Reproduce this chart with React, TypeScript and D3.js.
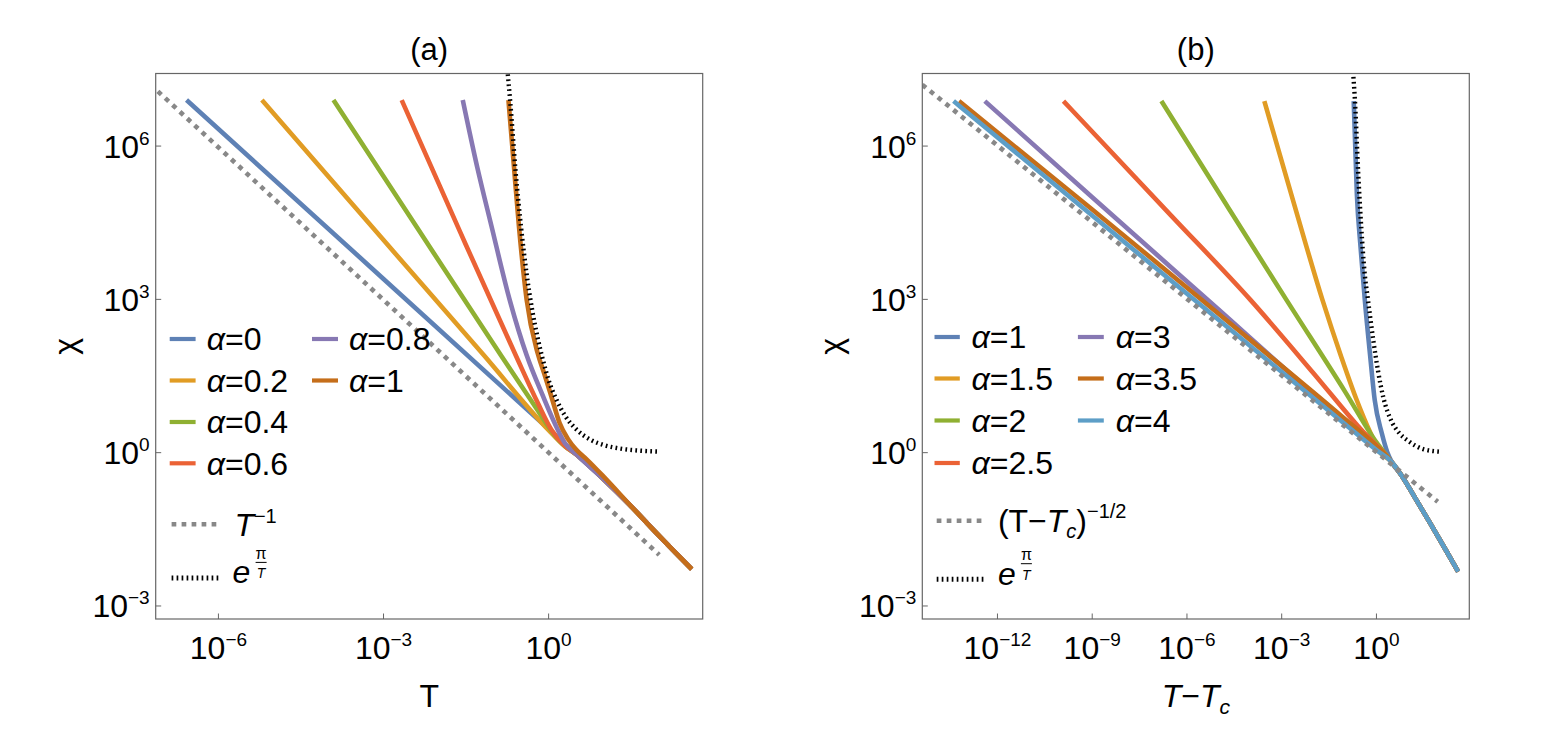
import React from 'react';
import * as d3 from 'd3';

type Pt = [number, number]; // [log10 of x value, log10 of chi]

const FONT = '"Liberation Sans", Arial, Helvetica, sans-serif';
const COLORS = ['#5E81B5', '#E19C24', '#8FB032', '#EB6235', '#8778B3', '#C56E1A', '#5D9EC7'];

// axis ranges (log10)
const yRange: Pt = [-3.255, 7.42];
const xRangeA: Pt = [-7.14, 2.8];
const xRangeB: Pt = [-14.38, 2.94];
const yTicks = [-3, 0, 3, 6];
const xTicksA = [-6, -3, 0];
const xTicksB = [-12, -9, -6, -3, 0];

// ---- panel (a): chi vs T ----
const alphasA = ['0', '0.2', '0.4', '0.6', '0.8', '1'];
const tailA: Pt[] = [[0.5, -0.03], [1.0, -0.52], [1.5, -1.05], [2.0, -1.62], [2.6, -2.28]];
const headsA: Pt[][] = [
  [[-6.58, 6.9], [-3, 3.4], [0, 0.46]],
  [[-5.21, 6.9], [-3, 4.16], [-1.18, 1.91], [0, 0.44], [0.25, 0.17]],
  [[-3.91, 6.9], [-2.4, 4.42], [-0.87, 1.91], [-0.2, 0.83], [0.1, 0.35], [0.3, 0.12]],
  [[-2.67, 6.9], [-1.6, 4.3], [-0.6, 1.91], [-0.2, 0.98], [0.05, 0.45], [0.3, 0.13]],
  [[-1.56, 6.9], [-1.3, 5.6], [-1.04, 4.44], [-0.71, 3.0], [-0.4, 1.91], [-0.1, 1.1], [0.1, 0.6], [0.3, 0.18]],
  [[-0.73, 6.9], [-0.63, 5.6], [-0.54, 4.44], [-0.4, 3.0], [-0.2, 1.95], [-0.08, 1.55], [0.05, 1.1],
    [0.2, 0.58], [0.35, 0.27], [0.5, 0.06], [0.7, -0.14], [1.0, -0.47]],
];
const powerA: Pt[] = [[-7.1, 7.07], [2.01, -2.0]];
const expA: Pt[] = [
  [-0.75, 7.5], [-0.7, 6.9], [-0.6, 5.5], [-0.5, 4.4], [-0.4, 3.5], [-0.3, 2.8], [-0.2, 2.25],
  [-0.1, 1.8], [0.0, 1.42], [0.15, 1.02], [0.3, 0.72], [0.5, 0.46], [0.75, 0.26], [1.0, 0.15],
  [1.3, 0.08], [1.65, 0.04], [2.01, 0.02],
];

// ---- panel (b): chi vs T - Tc ----
const alphasB = ['1', '1.5', '2', '2.5', '3', '3.5', '4'];
const tailB: Pt[] = [[0.8, -0.45], [1.2, -0.86], [1.7, -1.38], [2.2, -1.91], [2.59, -2.33]];
const headsB: Pt[][] = [
  [[-0.72, 6.88], [-0.62, 5.06], [-0.5, 4.0], [-0.37, 3.0], [-0.2, 1.9], [-0.055, 1.03], [0.17, 0.38], [0.35, 0.0], [0.5, -0.2]],
  [[-3.55, 6.88], [-2.6, 4.85], [-1.71, 2.99], [-1.1, 1.85], [-0.625, 1.03], [-0.2, 0.4], [0.12, 0.0], [0.45, -0.16]],
  [[-6.81, 6.88], [-4.8, 4.9], [-2.85, 2.99], [-1, 1.2], [0, 0.2], [0.45, -0.16]],
  [[-9.91, 6.88], [-6.5, 4.64], [-3.99, 2.99], [-2, 1.56], [-0.5, 0.46], [0.45, -0.16]],
  [[-12.4, 6.88], [-9, 5.0], [-5, 2.8], [-2, 1.15], [0, 0.1], [0.45, -0.16]],
  [[-13.22, 6.88], [-9, 4.76], [-5, 2.72], [-1, 0.66], [0, 0.13], [0.45, -0.16]],
  [[-13.39, 6.88], [-9, 4.64], [-5, 2.6], [-1, 0.56], [0, 0.05], [0.45, -0.16]],
];
const powerB: Pt[] = [[-14.38, 7.2], [1.94, -0.96]];
const expB: Pt[] = [
  [-0.74, 7.45], [-0.68, 6.88], [-0.58, 5.5], [-0.48, 4.4], [-0.38, 3.55], [-0.27, 3.0], [-0.1, 2.2],
  [0.05, 1.6], [0.23, 1.05], [0.45, 0.65], [0.7, 0.4], [1.03, 0.22], [1.48, 0.07], [1.99, 0.02],
];

const TOP = 73.5;
const BOTTOM = 619;

const supText = (e: number) => (e < 0 ? `\u2212${-e}` : `${e}`);

const AlphaLabel = ({ x, y, v }: { x: number; y: number; v: string }) => (
  <text x={x} y={y + 11.4} fontSize={32}>
    <tspan fontStyle="italic">α</tspan>={v}
  </text>
);

const ExpLabel = ({ x, y }: { x: number; y: number }) => (
  <g>
    <text x={x} y={y + 5.5} fontSize={32} fontStyle="italic">e</text>
    <text x={x + 28.5} y={y - 19} fontSize={16} textAnchor="middle">π</text>
    <line x1={x + 23} x2={x + 34} y1={y - 15.5} y2={y - 15.5} stroke="#000" strokeWidth={1} />
    <text x={x + 28.5} y={y + 0.5} fontSize={14} textAnchor="middle" fontStyle="italic">T</text>
  </g>
);

interface LegendCfg {
  cols: { x1: number; x2: number; tx: number }[];
  rows: number[];
  power: { y: number; x1: number; x2: number; tx: number };
  exp: { y: number; tx: number };
}

interface PanelProps {
  id: string;
  left: number;
  right: number;
  xRange: Pt;
  xTicks: number[];
  heads: Pt[][];
  tail: Pt[];
  alphas: string[];
  power: Pt[];
  expo: Pt[];
  title: string;
  chiX: number;
  xLabel: React.ReactNode;
  powerLabel: (x: number, y: number) => React.ReactNode;
  legend: LegendCfg;
}

function Panel(p: PanelProps) {
  const x = d3.scaleLog().domain([10 ** p.xRange[0], 10 ** p.xRange[1]]).range([p.left, p.right]);
  const y = d3.scaleLog().domain([10 ** yRange[0], 10 ** yRange[1]]).range([BOTTOM, TOP]);
  const line = d3
    .line<Pt>()
    .x((d) => x(10 ** d[0]))
    .y((d) => y(10 ** d[1]))
    .curve(d3.curveMonotoneX);
  const cx = (p.left + p.right) / 2;
  const L = p.legend;

  return (
    <g>
      <defs>
        <clipPath id={`clip-${p.id}`}>
          <rect x={p.left} y={TOP} width={p.right - p.left} height={BOTTOM - TOP} />
        </clipPath>
      </defs>
      <text x={cx} y={60} fontSize={31} textAnchor="middle">{p.title}</text>

      {/* curves */}
      <g clipPath={`url(#clip-${p.id})`} fill="none">
        {p.heads.map((h, i) => (
          <path key={i} d={line([...h, ...p.tail.filter((t) => t[0] > h[h.length - 1][0])]) || ''}
            stroke={COLORS[i]} strokeWidth={4.6} strokeLinejoin="round" />
        ))}
        <path d={line(p.power) || ''} stroke="#888" strokeWidth={4.6} strokeDasharray="4.7 5.3" />
        <path d={line(p.expo) || ''} stroke="#000" strokeWidth={4.4} strokeDasharray="1.7 3.3" />
      </g>

      {/* frame and ticks */}
      <rect x={p.left} y={TOP} width={p.right - p.left} height={BOTTOM - TOP} fill="none" stroke="#666" strokeWidth={1.2} />
      {yTicks.map((e) => (
        <g key={`y${e}`}>
          <line x1={p.left} x2={p.left + 5.5} y1={y(10 ** e)} y2={y(10 ** e)} stroke="#666" strokeWidth={1} />
          <text x={p.left - 6} y={y(10 ** e) + 11.5} fontSize={32} textAnchor="end">
            10<tspan dy={-13} fontSize={19}>{supText(e)}</tspan>
          </text>
        </g>
      ))}
      {p.xTicks.map((e) => (
        <g key={`x${e}`}>
          <line x1={x(10 ** e)} x2={x(10 ** e)} y1={BOTTOM} y2={BOTTOM - 5.5} stroke="#666" strokeWidth={1} />
          <text x={x(10 ** e)} y={659.3} fontSize={32} textAnchor="middle">
            10<tspan dy={-13} fontSize={19}>{supText(e)}</tspan>
          </text>
        </g>
      ))}
      <text transform={`translate(${p.chiX},${(TOP + BOTTOM) / 2}) rotate(-90)`} fontSize={32} textAnchor="middle" dy="0.3em">χ</text>
      <text x={cx} y={707} fontSize={32} textAnchor="middle">{p.xLabel}</text>

      {/* legend */}
      {p.alphas.map((a, i) => {
        const c = L.cols[i < 4 ? 0 : 1];
        const ry = L.rows[i % 4];
        return (
          <g key={`l${i}`}>
            <line x1={c.x1} x2={c.x2} y1={ry} y2={ry} stroke={COLORS[i]} strokeWidth={4.2} />
            <AlphaLabel x={c.tx} y={ry} v={a} />
          </g>
        );
      })}
      <line x1={L.power.x1} x2={L.power.x2} y1={L.power.y} y2={L.power.y} stroke="#888" strokeWidth={4.6} strokeDasharray="4.7 5.3" />
      {p.powerLabel(L.power.tx, L.power.y)}
      <line x1={L.power.x1} x2={L.power.x2} y1={L.exp.y} y2={L.exp.y} stroke="#000" strokeWidth={5} strokeDasharray="1.7 3.3" />
      <ExpLabel x={L.exp.tx} y={L.exp.y} />
    </g>
  );
}

export default function App() {
  return (
    <div style={{ position: 'absolute', left: 0, top: 0 }}>
      <svg width={1553} height={741} style={{ display: 'block', fontFamily: FONT, background: '#fff' }}>
        <Panel
          id="a" left={155.7} right={702.7} xRange={xRangeA} xTicks={xTicksA}
          heads={headsA} tail={tailA} alphas={alphasA} power={powerA} expo={expA}
          title="(a)" chiX={66} xLabel="T"
          powerLabel={(x, y) => (
            <text x={x} y={y + 11.4} fontSize={32}>
              <tspan fontStyle="italic">T</tspan>
              <tspan dy={-13} fontSize={20}>{'\u22121'}</tspan>
            </text>
          )}
          legend={{
            cols: [{ x1: 169.7, x2: 195.6, tx: 206.7 }, { x1: 312, x2: 338, tx: 349 }],
            rows: [339, 380.5, 422, 463.3],
            power: { y: 524.2, x1: 171.6, x2: 219.6, tx: 234.4 },
            exp: { y: 577.9, tx: 232.6 },
          }}
        />
        <Panel
          id="b" left={922.3} right={1469.3} xRange={xRangeB} xTicks={xTicksB}
          heads={headsB} tail={tailB} alphas={alphasB} power={powerB} expo={expB}
          title="(b)" chiX={832.5}
          xLabel={
            <>
              <tspan fontStyle="italic">T</tspan>{'\u2212'}<tspan fontStyle="italic">T</tspan>
              <tspan fontStyle="italic" fontSize={21} dy={7}>c</tspan>
            </>
          }
          powerLabel={(x, y) => (
            <text x={x} y={y + 11.4} fontSize={32}>
              (T{'\u2212'}<tspan fontStyle="italic">T</tspan>
              <tspan fontStyle="italic" fontSize={20} dy={6}>c</tspan>
              <tspan dy={-6}>)</tspan>
              <tspan dy={-14} fontSize={20}>{'\u22121/2'}</tspan>
            </text>
          )}
          legend={{
            cols: [{ x1: 934.5, x2: 959.8, tx: 971.6 }, { x1: 1077.9, x2: 1103.8, tx: 1115.7 }],
            rows: [337, 378.5, 420.5, 463],
            power: { y: 520.8, x1: 936.7, x2: 986, tx: 997.9 },
            exp: { y: 579.2, tx: 997.9 },
          }}
        />
      </svg>
    </div>
  );
}
